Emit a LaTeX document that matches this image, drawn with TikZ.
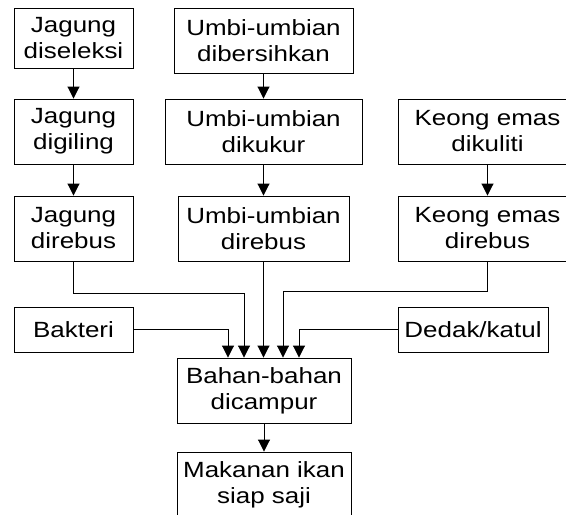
\documentclass[tikz,border=0pt]{standalone}
\usepackage{fontspec}
\setmainfont[FakeStretch=1.18]{Liberation Sans}
\usetikzlibrary{arrows.meta}
\begin{document}
\begin{tikzpicture}[x=1pt,y=-1pt,
  box/.style={draw,line width=0.9pt,rectangle,inner sep=0pt,align=center,
    font=\fontsize{22}{26}\selectfont},
  arr/.style={line width=0.9pt,-{Triangle[length=12pt,width=12pt]}}]
\useasboundingbox (0,0) rectangle (566,515);
\clip (0,0) rectangle (566,515);
\node[box,minimum width=119,minimum height=60] (j1) at (73.5,38) {Jagung\\diseleksi};
\node[box,minimum width=179,minimum height=65] (u1) at (263.5,40.5) {Umbi-umbian\\dibersihkan};
\node[box,minimum width=119,minimum height=65] (j2) at (73.5,131.5) {Jagung\\digiling};
\node[box,minimum width=197,minimum height=65] (u2) at (263.5,131.5) {Umbi-umbian\\dikukur};
\node[box,minimum width=179,minimum height=65] (k1) at (487.5,131.5) {Keong emas\\dikuliti};
\node[box,minimum width=119,minimum height=65] (j3) at (73.5,228.5) {Jagung\\direbus};
\node[box,minimum width=171,minimum height=65] (u3) at (263.5,228.5) {Umbi-umbian\\direbus};
\node[box,minimum width=179,minimum height=65] (k2) at (487.5,228.5) {Keong emas\\direbus};
\node[box,minimum width=119,minimum height=45] (bak) at (73.5,329.5) {Bakteri};
\node[box,minimum width=150,minimum height=45] (ded) at (473,329.5) {Dedak/katul};
\node[box,minimum width=174,minimum height=65] (bah) at (264,390.5) {Bahan-bahan\\dicampur};
\node[box,minimum width=174,minimum height=65] (mak) at (264,484.5) {Makanan ikan\\siap saji};
\draw[arr] (j1) -- (j2);
\draw[arr] (j2) -- (j3);
\draw[arr] (u1) -- (u2);
\draw[arr] (u2) -- (u3);
\draw[arr] (k1) -- (k2);
\draw[arr] (j3.south) -- ++(0,32) -| ([xshift=-20pt]bah.north);
\draw[arr] (bak.east) -| ([xshift=-36pt]bah.north);
\draw[arr] (u3.south) -- (u3.south |- bah.north);
\draw[arr] (k2.south) -- ++(0,30) -| ([xshift=19pt]bah.north);
\draw[arr] (ded.west) -| ([xshift=35pt]bah.north);
\draw[arr] (bah) -- (mak);
\end{tikzpicture}
\end{document}
